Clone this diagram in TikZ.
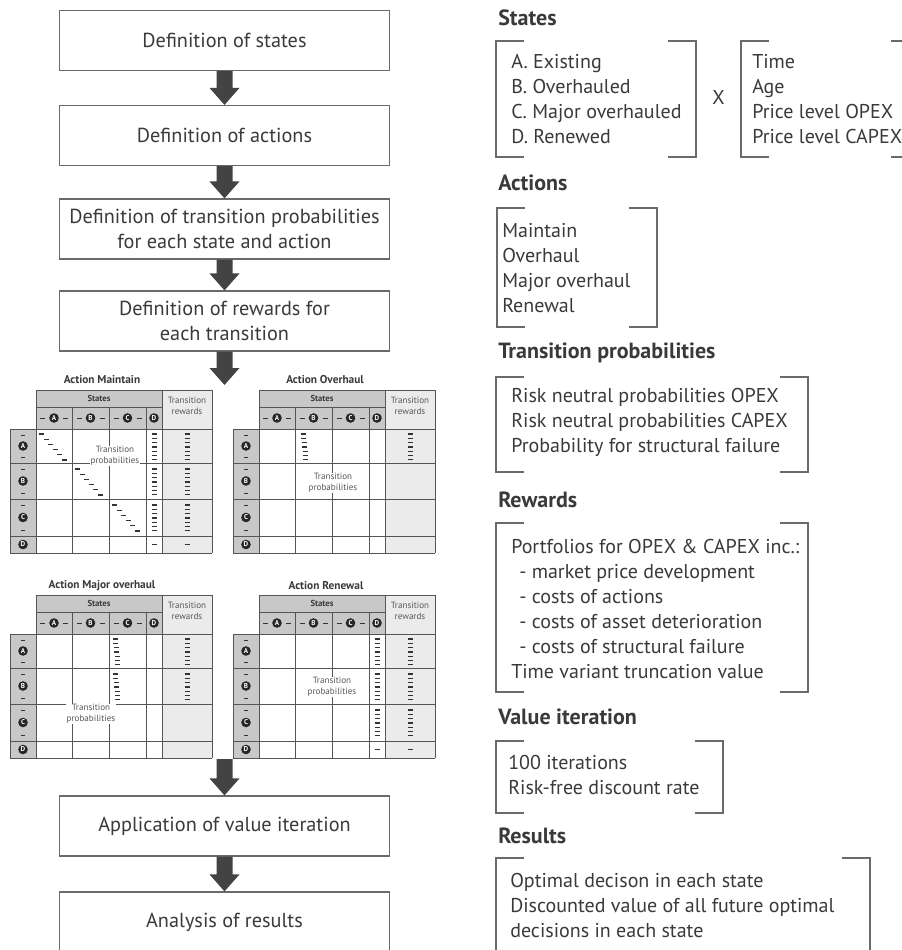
\documentclass[tikz,border=0pt]{standalone}
\usepackage{fontspec}
\setmainfont{PT Sans}
\usetikzlibrary{calc}

\definecolor{ink}{HTML}{3A3A3A}
\definecolor{framegray}{HTML}{6A6A6A}
\definecolor{gridgray}{HTML}{555555}
\definecolor{headgray}{HTML}{C8C8C8}
\definecolor{rewardgray}{HTML}{EBEBEB}
\definecolor{arrowgray}{HTML}{434343}

\tikzset{
  stepbox/.style={draw=framegray, line width=0.9pt, fill=white, minimum width=247.5pt,
    minimum height=45pt, align=center, text=ink,
    font=\fontsize{15.2}{18.75}\selectfont},
  heading/.style={anchor=west, inner sep=0pt, text=ink,
    font=\fontsize{16.5}{18}\selectfont\bfseries},
  itemlist/.style={anchor=west, inner sep=0pt, align=left, text=ink,
    font=\fontsize{15}{18.75}\selectfont},
  bracketline/.style={draw=framegray, line width=0.9pt},
  gridline/.style={draw=gridgray, line width=0.7pt},
  dashmark/.style={draw=black!80, line width=0.9pt},
  statedot/.style={circle, fill=black!85, text=white, inner sep=0pt,
    minimum size=7.2pt, font=\fontsize{5.3}{5}\selectfont\bfseries},
  matrixtitle/.style={text=ink, font=\fontsize{8.5}{10}\selectfont\bfseries},
  cellnote/.style={text=ink!85, align=center, inner sep=0.6pt,
    font=\fontsize{6.8}{8.2}\selectfont},
}

\begin{document}
\begin{tikzpicture}[x=0.75pt, y=-0.75pt]
  \fill[white] (0,0) rectangle (902,950);
  \useasboundingbox (0,0) rectangle (902,950);

  \def\blockarrow#1#2{\fill[arrowgray] ($(#1)+(-8,0)$) -- ($(#2)+(-8,-17)$) -- ($(#2)+(-15,-17)$)
    -- (#2) -- ($(#2)+(15,-17)$) -- ($(#2)+(8,-17)$) -- ($(#1)+(8,0)$) -- cycle;}
  \def\dashrun#1#2#3#4#5{\foreach \k in {0,...,#5} \draw[dashmark] (#1+\k*#3,#2+\k*#4) -- ++(5,0);}
  \def\bracketpair#1#2#3#4{\draw[bracketline] (#1+28,#2) -- (#1,#2) -- (#1,#4) -- (#1+28,#4)
    (#3-28,#2) -- (#3,#2) -- (#3,#4) -- (#3-28,#4);}
  \def\matrixframe{
    \fill[headgray] (26,0) rectangle (152,39) (0,39) rectangle (26,163);
    \fill[rewardgray] (152,0) rectangle (202,163);
    \draw[gridline] (26,0) -- (202,0) (26,17) -- (152,17)
      \foreach \r in {39,73,109,146,163} {(0,\r) -- (202,\r)};
    \draw[gridline] (0,39) -- (0,163) \foreach \c in {26,152,202} {(\c,0) -- (\c,163)}
      \foreach \c in {62,99,136} {(\c,17) -- (\c,163)};
    \node[text=ink, font=\fontsize{6.5}{7}\selectfont\bfseries] (states-hdr) at (89,8.5) {States};
    \node[cellnote] (reward-hdr) at (177,16) {Transition\\rewards};
    \foreach \s/\c in {A/44,B/80.5,C/117.5} {
      \node[statedot] (col-\s) at (\c,28) {\s};
      \draw[dashmark, line width=0.6pt] (\c-14,28) -- (\c-9,28) (\c+9,28) -- (\c+14,28);
    }
    \node[statedot] (col-D) at (144,28) {D};
    \foreach \s/\m/\t/\b in {A/56/39/73,B/91/73/109,C/127.5/109/146} {
      \node[statedot] (row-\s) at (13,\m) {\s};
      \draw[dashmark, line width=0.6pt] (11,\t+6) -- (15,\t+6) (11,\b-6) -- (15,\b-6);
    }
    \node[statedot] (row-D) at (13,154.5) {D};
  }

  % flow of the model
  \node[stepbox] (states) at (224.5,40.5) {Definition of states};
  \node[stepbox] (actions) at (224.5,135.5) {Definition of actions};
  \node[stepbox] (probs) at (224.5,229) {Definition of transition probabilities\\for each state and action};
  \node[stepbox] (rewards) at (224.5,321) {Definition of rewards for\\each transition};
  \coordinate (mtop) at (224.5,385);
  \coordinate (mbottom) at (224.5,759);
  \node[stepbox] (iteration) at (224.5,826) {Application of value iteration};
  \node[stepbox] (analysis) at (224.5,922) {Analysis of results};

  \blockarrow{states.south}{actions.north}
  \blockarrow{actions.south}{probs.north}
  \blockarrow{probs.south}{rewards.north}
  \blockarrow{rewards.south}{mtop}
  \blockarrow{mbottom}{iteration.north}
  \blockarrow{iteration.south}{analysis.north}

  % Action Maintain
  \begin{scope}[shift={(10,390)}]
    \matrixframe
    \node[matrixtitle] (title-maintain) at (92,-10) {Action Maintain};
    \dashrun{29}{44}{4.6}{5.2}{5}
    \dashrun{65}{79}{4.6}{5.2}{5}
    \dashrun{102}{115}{4.6}{5.2}{5}
    \foreach \t in {44,79,115} {\dashrun{141.5}{\t}{0}{4.3}{6} \dashrun{174.5}{\t}{0}{4.3}{6}}
    \draw[dashmark] (141.5,154.5) -- ++(5,0) (174.5,154.5) -- ++(5,0);
    \node[cellnote, fill=white] (note-maintain) at (105,66) {Transition\\probabilities};
  \end{scope}

  % Action Overhaul
  \begin{scope}[shift={(233,390)}]
    \matrixframe
    \node[matrixtitle] (title-overhaul) at (92,-10) {Action Overhaul};
    \dashrun{68}{44}{0.4}{4.3}{6}
    \dashrun{174.5}{44}{0}{4.3}{6}
    \node[cellnote, fill=white] (note-overhaul) at (100,93) {Transition\\probabilities};
  \end{scope}

  % Action Major overhaul
  \begin{scope}[shift={(10,595)}]
    \matrixframe
    \node[matrixtitle] (title-major) at (92,-9) {Action Major overhaul};
    \foreach \t in {44,79} {\dashrun{103}{\t}{0.4}{4.3}{6} \dashrun{174.5}{\t}{0}{4.3}{6}}
    \node[cellnote, fill=white] (note-major) at (81,119) {Transition\\probabilities};
  \end{scope}

  % Action Renewal
  \begin{scope}[shift={(233,595)}]
    \matrixframe
    \node[matrixtitle] (title-renewal) at (93,-9) {Action Renewal};
    \foreach \t in {44,79,115} {\dashrun{141.5}{\t}{0}{4.3}{6} \dashrun{174.5}{\t}{0}{4.3}{6}}
    \draw[dashmark] (141.5,154.5) -- ++(5,0) (174.5,154.5) -- ++(5,0);
    \node[cellnote, fill=white] (note-renewal) at (99,92) {Transition\\probabilities};
  \end{scope}

  % right hand side: contents of each step
  \node[heading] (h-states) at (498,18) {States};
  \bracketpair{496}{41}{696}{157}
  \node[itemlist] (l-states) at (511,99.5) {A. Existing\\B. Overhauled\\C. Major overhauled\\D. Renewed};
  \node[itemlist] (times) at (712,97) {X};
  \bracketpair{741}{41}{919}{157}
  \node[itemlist] (l-dims) at (752,99.5) {Time\\Age\\Price level OPEX\\Price level CAPEX};

  \node[heading] (h-actions) at (498,183) {Actions};
  \bracketpair{497}{208}{657}{327}
  \node[itemlist] (l-actions) at (502,268.5) {Maintain\\Overhaul\\Major overhaul\\Renewal};

  \node[heading] (h-probs) at (498,353) {Transition probabilities};
  \bracketpair{496}{377}{808}{472}
  \node[itemlist] (l-probs) at (511,422.5) {Risk neutral probabilities OPEX\\Risk neutral probabilities CAPEX\\Probability for structural failure};

  \node[heading] (h-rewards) at (498,500) {Rewards};
  \bracketpair{496}{523}{808}{692}
  \node[itemlist] (l-rewards) at (511,609) {Portfolios for OPEX \& CAPEX inc.:\\
    \hspace*{6pt}- market price development\\\hspace*{6pt}- costs of actions\\
    \hspace*{6pt}- costs of asset deterioration\\\hspace*{6pt}- costs of structural failure\\
    Time variant truncation value};

  \node[heading] (h-iteration) at (498,717) {Value iteration};
  \bracketpair{496}{741}{723}{813}
  \node[itemlist] (l-iteration) at (508,774.5) {100 iterations\\Risk-free discount rate};

  \node[heading] (h-results) at (498,836) {Results};
  \bracketpair{496}{858}{870}{975}
  \node[itemlist] (l-results) at (510,905) {Optimal decison in each state\\Discounted value of all future optimal\\decisions in each state};
\end{tikzpicture}
\end{document}
